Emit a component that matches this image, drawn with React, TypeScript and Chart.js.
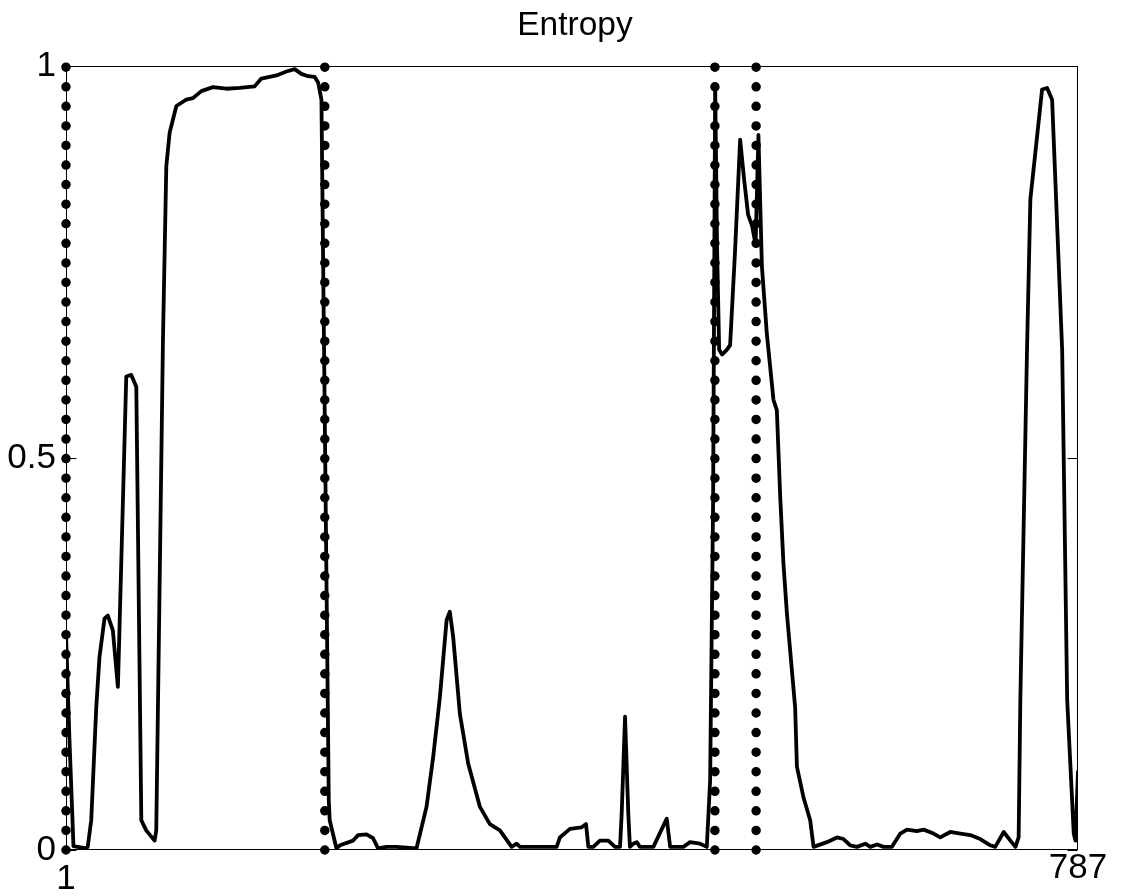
import React, { useEffect, useRef } from "react";
import { Chart, registerables } from "chart.js";

Chart.register(...registerables);

// Entropy curve (x index, entropy value)
const entropyX = [
  1, 3.7, 6.8, 16.7, 17.9, 20.6, 24.5, 27.0, 30.9, 33.5, 37.4, 41.3, 42.6, 47.8, 51.7, 55.6,
  59.5, 63.3, 69.8, 71.1, 76.3, 78.9, 81.5, 86.7, 94.4, 99.6, 106.1, 115.1, 125.5, 135.9,
  147.5, 152.7, 164.4, 172.2, 178.6, 183.8, 189.0, 194.2, 196.8, 199.4, 205.1, 205.8, 211.1,
  213.8, 224.0, 227.9, 234.4, 239.5, 243.4, 249.9, 257.7, 265.5, 273.2, 281.0, 286.2, 291.4,
  296.6, 299.1, 301.7, 306.9, 313.4, 322.5, 330.2, 338.0, 344.5, 347.1, 351.0, 353.6, 361.3,
  382.1, 384.6, 392.4, 401.5, 404.9, 406.7, 410.5, 415.7, 422.2, 427.4, 431.3, 432.6, 435.2,
  437.7, 439.0, 441.6, 444.3, 446.8, 457.2, 467.6, 470.2, 480.5, 485.7, 493.5, 498.7, 501.3,
  503.6, 505.2, 506.7, 508.3, 510.6, 514.2, 516.8, 520.7, 524.6, 527.7, 530.8, 533.9, 536.6,
  538.8, 541.5, 545.3, 550.5, 553.1, 555.7, 558.2, 560.9, 564.8, 567.3, 568.7, 573.8, 579.0,
  581.6, 592.0, 599.8, 604.9, 610.1, 615.3, 621.8, 625.7, 630.9, 636.0, 642.5, 649.0, 654.2,
  661.9, 667.1, 674.8, 680.0, 687.8, 695.6, 703.3, 711.1, 718.9, 722.7, 729.3, 734.5, 738.4,
  740.9, 742.2, 747.4, 750.0, 759.1, 763.0, 766.9, 774.7, 778.6, 783.7, 785.0, 787,
];
const entropyY = [
  0.276, 0.14, 0.005, 0.002, 0.004, 0.038, 0.182, 0.246, 0.295, 0.299, 0.28, 0.208, 0.285, 0.604, 0.606, 0.591,
  0.038, 0.025, 0.012, 0.025, 0.65, 0.872, 0.915, 0.949, 0.957, 0.959, 0.968, 0.973, 0.971, 0.972,
  0.974, 0.984, 0.988, 0.993, 0.996, 0.99, 0.987, 0.986, 0.979, 0.957, 0.063, 0.038, 0.002,
  0.006, 0.012, 0.019, 0.02, 0.015, 0.002, 0.004, 0.004, 0.003, 0.002, 0.055, 0.119, 0.195,
  0.293, 0.304, 0.272, 0.174, 0.11, 0.055, 0.033, 0.025, 0.01, 0.004, 0.008, 0.004, 0.004,
  0.004, 0.016, 0.027, 0.029, 0.033, 0.004, 0.004, 0.012, 0.012, 0.004, 0.004, 0.047, 0.17,
  0.047, 0.004, 0.008, 0.01, 0.004, 0.004, 0.04, 0.004, 0.004, 0.01, 0.008, 0.004, 0.089,
  0.446, 0.976, 0.766, 0.638, 0.632, 0.638, 0.644, 0.766, 0.906, 0.855, 0.81, 0.796, 0.772,
  0.912, 0.744, 0.659, 0.574, 0.561, 0.451, 0.366, 0.302, 0.229, 0.182, 0.106, 0.067, 0.038,
  0.004, 0.01, 0.016, 0.014, 0.006, 0.004, 0.008, 0.004, 0.007, 0.004, 0.004, 0.021, 0.026,
  0.024, 0.026, 0.021, 0.016, 0.023, 0.021, 0.019, 0.014, 0.006, 0.004, 0.023, 0.012, 0.004,
  0.016, 0.19, 0.638, 0.83, 0.97, 0.972, 0.957, 0.638, 0.191, 0.021, 0.012, 0.1,
];

// Segment boundaries (dotted vertical lines)
const boundaryX = [1, 202, 505, 537];

const xTickValues = [1, 787];
const yTickValues = [0, 0.5, 1];

const TITLE = "Entropy";
const FONT = "'Liberation Sans', Arial, Helvetica, sans-serif";

const boxPlugin = {
  id: "matlabBox",
  beforeDatasetsDraw(chart: any) {
    const { ctx, chartArea: a, scales } = chart;
    const l = Math.round(a.left) + 0.5;
    const r = Math.round(a.right) - 0.5;
    const t = Math.round(a.top) + 0.5;
    const b = Math.round(a.bottom) - 0.5;
    ctx.save();
    ctx.strokeStyle = "#000";
    ctx.lineWidth = 1;
    ctx.strokeRect(l, t, r - l, b - t);
    ctx.beginPath();
    for (const v of yTickValues) {
      const y = Math.round(scales.y.getPixelForValue(v)) + 0.5;
      ctx.moveTo(l, y);
      ctx.lineTo(l + 10, y);
      ctx.moveTo(r, y);
      ctx.lineTo(r - 10, y);
    }
    ctx.stroke();
    ctx.restore();
  },
  afterDraw(chart: any) {
    const { ctx, chartArea: a } = chart;
    ctx.save();
    ctx.fillStyle = "#000";
    ctx.font = `normal 33.5px ${FONT}`;
    ctx.textAlign = "center";
    ctx.textBaseline = "middle";
    ctx.fillText(TITLE, (a.left + a.right) / 2 + 3, 26);
    ctx.restore();
  },
};

export default function App() {
  const canvasRef = useRef<HTMLCanvasElement | null>(null);

  useEffect(() => {
    const canvas = canvasRef.current;
    if (!canvas) return;

    const lineData = entropyX.map((x, i) => ({ x, y: entropyY[i] }));
    const dotted = boundaryX.map((bx) => ({
      data: [
        { x: bx, y: 0 },
        { x: bx, y: 1 },
      ],
      borderColor: "#000",
      borderWidth: 9.5,
      borderDash: [0, 19.57],
      borderCapStyle: "round" as const,
      pointRadius: 0,
      fill: false,
      tension: 0,
      clip: false as const,
    }));

    const chart = new Chart(canvas, {
      type: "line",
      data: {
        datasets: [
          {
            label: TITLE,
            data: lineData,
            borderColor: "#000",
            borderWidth: 3.8,
            borderJoinStyle: "round",
            borderCapStyle: "round",
            pointRadius: 0,
            fill: false,
            tension: 0,
          },
          ...dotted,
        ],
      },
      options: {
        animation: false,
        responsive: false,
        devicePixelRatio: 1,
        layout: { padding: { left: 0, right: 45, top: 66, bottom: 0 } },
        plugins: {
          legend: { display: false },
          tooltip: { enabled: false },
          title: { display: false },
        },
        scales: {
          x: {
            type: "linear",
            min: 1,
            max: 787,
            grid: { display: false, drawTicks: false },
            border: { display: false },
            afterBuildTicks: (s: any) => {
              s.ticks = xTickValues.map((v) => ({ value: v }));
            },
            afterFit: (s: any) => {
              s.height = 46;
            },
            ticks: {
              color: "#000",
              padding: 0,
              maxRotation: 0,
              autoSkip: false,
              callback: (v: any) => String(v),
              font: (ctx: any) => ({
                family: FONT,
                size: 35,
                lineHeight: ctx.index === 0 ? 1.68 : 1.05,
              }),
            },
          },
          y: {
            type: "linear",
            min: 0,
            max: 1,
            grid: { display: false, drawTicks: false },
            border: { display: false },
            afterBuildTicks: (s: any) => {
              s.ticks = yTickValues.map((v) => ({ value: v }));
            },
            afterFit: (s: any) => {
              s.width = 66;
            },
            ticks: {
              color: "#000",
              padding: 10,
              autoSkip: false,
              callback: (v: any) => String(v),
              font: { family: FONT, size: 35 },
            },
          },
        },
      },
      plugins: [boxPlugin],
    });

    return () => chart.destroy();
  }, []);

  return (
    <div style={{ position: "fixed", left: 0, top: 0, width: 1123, height: 896, background: "#fff" }}>
      <canvas ref={canvasRef} width={1123} height={896} style={{ display: "block" }} />
    </div>
  );
}
